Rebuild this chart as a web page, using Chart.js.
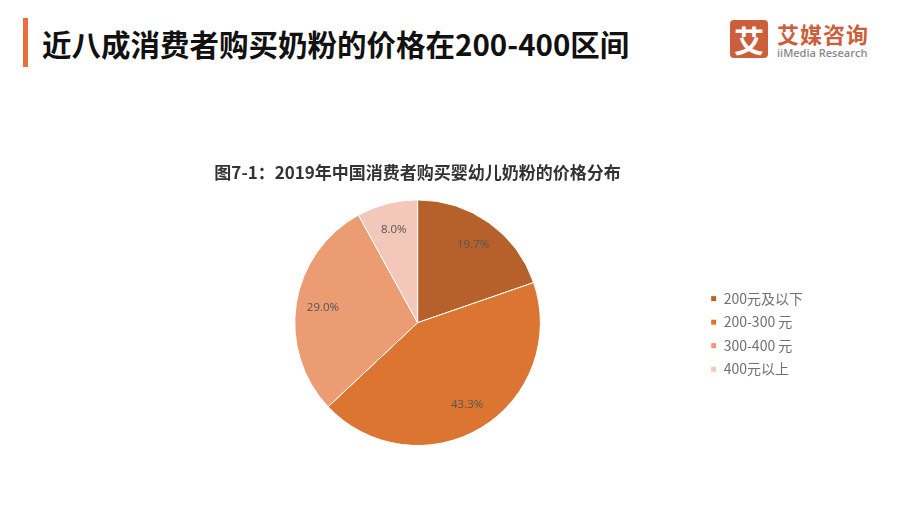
<!DOCTYPE html>
<html>
<head>
<meta charset="utf-8">
<script src="https://cdn.jsdelivr.net/npm/chart.js@4/dist/chart.umd.min.js"></script>
<style>
  body { margin: 0; background: #fff; font-family: "Noto Sans CJK SC", "Noto Sans", sans-serif; }
  #wrap { position: relative; width: 904px; height: 516px; overflow: hidden; }
  #bar { position: absolute; left: 23px; top: 18px; width: 5px; height: 49px; background: #e8703f; }
  #head { position: absolute; left: 42px; top: 22px; font-size: 29.5px; font-weight: bold; color: #111; line-height: 42px; }
  #logo { position: absolute; left: 730px; top: 20px; width: 38px; height: 38px; background: #cc5f3b; border-radius: 4px;
          color: #fff; font-size: 30px; font-weight: bold; text-align: center; line-height: 38px; }
  #brand { position: absolute; left: 777px; top: 18px; font-size: 22px; font-weight: bold; color: #cc5f3b; line-height: 30px; letter-spacing: 1px; }
  #brand2 { position: absolute; left: 777px; top: 45px; font-size: 11px; color: #8a8a8a; font-family: "Open Sans", sans-serif; font-weight: 600; }
  #chart { position: absolute; left: 0; top: 0; width: 904px; height: 516px; }
</style>
</head>
<body>
<div id="wrap">
  <div id="bar"></div>
  <div id="head">近八成消费者购买奶粉的价格在200-400区间</div>
  <div id="logo">艾</div>
  <div id="brand">艾媒咨询</div>
  <div id="brand2">iiMedia Research</div>
  <div id="chart"><canvas id="pie"></canvas></div>
</div>
<script>
const categories = ["200元及以下", "200-300 元", "300-400 元", "400元以上"];
const shares = [19.7, 43.3, 29.0, 8.0];
const colors = ["#b6612b", "#dd7532", "#eb9c72", "#f3c7b9"];

const sliceLabels = {
  id: "sliceLabels",
  afterDatasetsDraw(chart) {
    const ctx = chart.ctx;
    const meta = chart.getDatasetMeta(0);
    ctx.save();
    ctx.font = "11.5px 'Open Sans', 'Noto Sans', sans-serif";
    ctx.fillStyle = "#555";
    ctx.textAlign = "center";
    ctx.textBaseline = "middle";
    meta.data.forEach((arc, i) => {
      const p = arc.getProps(["x", "y", "startAngle", "endAngle", "outerRadius"], true);
      const a = (p.startAngle + p.endAngle) / 2;
      const r = p.outerRadius * 0.78;
      ctx.fillText(shares[i].toFixed(1) + "%", p.x + Math.cos(a) * r, p.y + Math.sin(a) * r);
    });
    ctx.restore();
  }
};

new Chart(document.getElementById("pie"), {
  type: "pie",
  data: {
    labels: categories,
    datasets: [
      {
        data: shares,
        backgroundColor: colors,
        borderColor: "#ffffff",
        borderWidth: 1,
      },
    ],
  },
  options: {
    responsive: true,
    maintainAspectRatio: false,
    animation: false,
    layout: { padding: { left: 134, right: 91, top: 162, bottom: 70 } },
    plugins: {
      title: {
        display: true,
        text: "图7-1：2019年中国消费者购买婴幼儿奶粉的价格分布",
        fullSize: false,
        color: "#333",
        font: { size: 17, weight: "bold", family: "'Noto Sans CJK SC', sans-serif" },
        padding: { top: 0, bottom: 17 },
      },
      legend: {
        position: "right",
        fullSize: false,
        title: { display: true, text: " ", font: { size: 12 }, padding: 4 },
        labels: {
          boxWidth: 6,
          boxHeight: 6,
          padding: 9.5,
          color: "#707070",
          font: { size: 14, family: "'Noto Sans CJK SC', sans-serif" },
        },
      },
      tooltip: { enabled: false },
    },
  },
  plugins: [sliceLabels],
});
</script>
</body>
</html>
